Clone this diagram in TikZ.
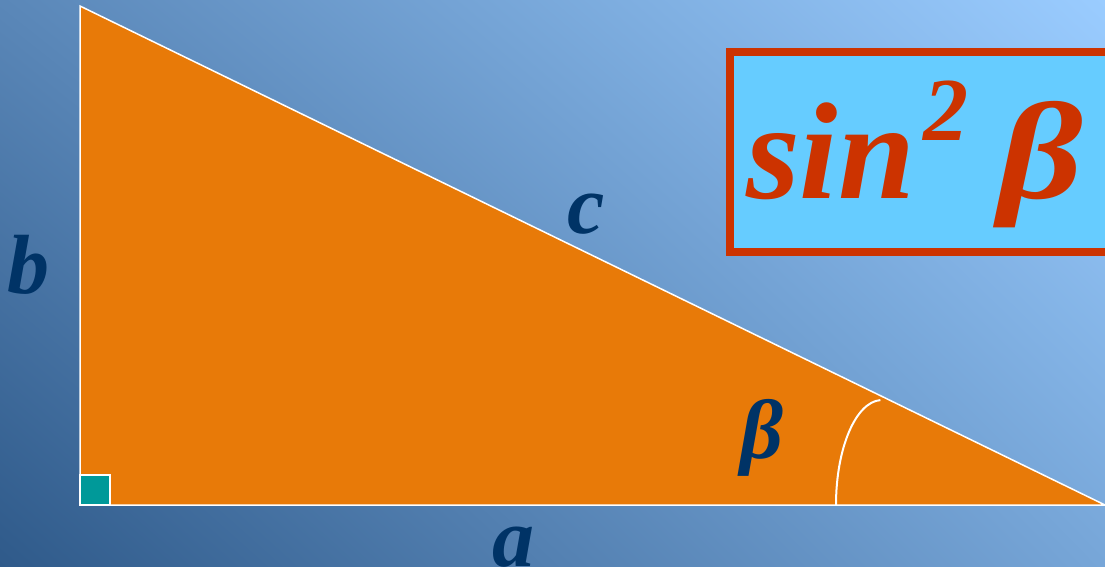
\documentclass[tikz,border=0pt]{standalone}
\usepackage{fontspec}
\setmainfont{Liberation Serif}
\usetikzlibrary{shadings}
\definecolor{triorange}{HTML}{E87A08}
\definecolor{rightteal}{HTML}{009999}
\definecolor{labelblue}{HTML}{003366}
\definecolor{boxred}{HTML}{CC3300}
\definecolor{boxblue}{HTML}{66CCFF}
\definecolor{bgTL}{HTML}{5A87B8}
\definecolor{bgTR}{HTML}{9ACCFF}
\definecolor{bgBL}{HTML}{2F5A8A}
\definecolor{bgBR}{HTML}{77A6D8}
\tikzset{
  sidelabel/.style={anchor=base, inner sep=0pt, text=labelblue,
    font=\fontsize{84}{84}\selectfont\bfseries\itshape},
  edge/.style={draw=white, line width=1.5pt},
}
\begin{document}
\begin{tikzpicture}[x=1pt,y=-1pt]
\useasboundingbox (0,0) rectangle (1105,567);
\clip (0,0) rectangle (1105,567);
\shade[upper left=bgTL, upper right=bgTR, lower left=bgBL, lower right=bgBR] (0,0) rectangle (1105,567);
% triangle
\coordinate (T) at (80,6);
\coordinate (O) at (80,505);
\coordinate (R) at (1105,505);
\fill[triorange] (T) -- (O) -- (R) -- cycle;
\draw[edge] (T) -- (O) -- (R) -- cycle;
% right angle mark
\draw[edge, fill=rightteal] (80,475) rectangle (110,505);
% angle arc
\draw[edge, line width=2pt] (836,505) arc[start angle=180, end angle=268, x radius=46, y radius=105];
% labels
\node[sidelabel] (lb) at (28,293) {b};
\node[sidelabel] (lc) at (586,233) {c};
\node[sidelabel] (la) at (513,566) {a};
\node[sidelabel] (lbeta) at (762,458) {β};
% formula box
\draw[draw=boxred, line width=8pt, fill=boxblue] (730,52) rectangle (1125,252);
\node[anchor=base west, inner sep=0pt, text=boxred,
  font=\fontsize{138}{138}\selectfont\bfseries\itshape] (sin) at (746,198)
  {sin\hspace{8pt}\raisebox{58pt}{\fontsize{90}{90}\selectfont 2}\hspace{30pt}\scalebox{1.2}[1]{β}};
\end{tikzpicture}
\end{document}
